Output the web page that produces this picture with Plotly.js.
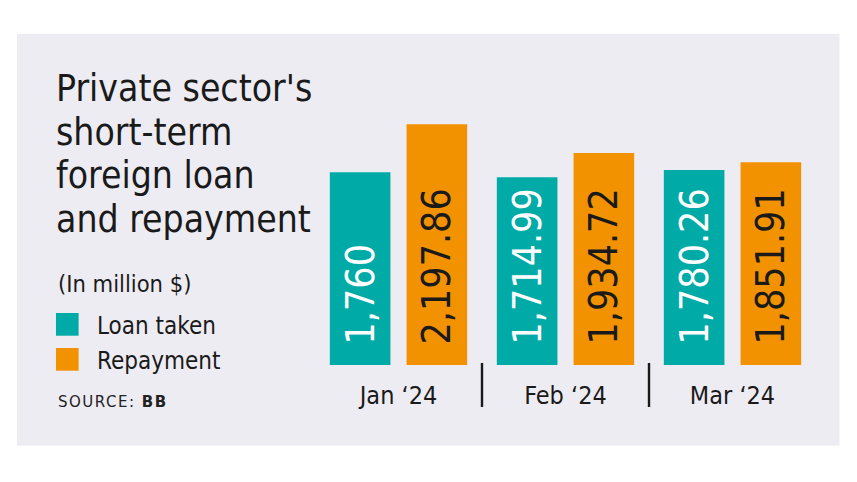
<!DOCTYPE html>
<html>
<head>
<meta charset="utf-8">
<script src="https://cdn.plot.ly/plotly-3.0.1.min.js"></script>
<style>html,body{margin:0;padding:0;background:#fff;}#chart{width:857px;height:482px;}</style>
</head>
<body>
<div id="chart"></div>
<script>
// ---- data ----
const months = ['Jan \u201824', 'Feb \u201824', 'Mar \u201824'];
const loanTaken = [1760, 1714.99, 1780.26];
const repayment = [2197.86, 1934.72, 1851.91];
const seriesNames = ['Loan taken', 'Repayment'];
const titleLines = ["Private sector's", 'short-term', 'foreign loan', 'and repayment'];
const subtitle = '(In million $)';
const sourceText = 'SOURCE: <b>BB</b>';

// ---- style ----
const NARROW = '"DejaVu Sans Condensed", "Liberation Sans Narrow", sans-serif';
const TEAL = '#00aba7';
const ORANGE = '#f39200';
const PANEL = '#eeecf3';
const INK = '#1a1a1a';

const W = 857, H = 482;
const M = {l: 314.5, r: 40.6, t: 124.2, b: 116.7};
const pw = W - M.l - M.r, ph = H - M.t - M.b;
const px = x => (x - M.l) / pw;
const py = y => (H - M.b - y) / ph;

const fmt = v => '\u2002' + v.toLocaleString('en-US', {maximumFractionDigits: 2});

const barCommon = {
  type: 'bar',
  x: months,
  textposition: 'inside',
  insidetextanchor: 'start',
  constraintext: 'none',
  textangle: -90,
  cliponaxis: false,
  hoverinfo: 'skip'
};

const traces = [
  Object.assign({}, barCommon, {
    name: seriesNames[0], y: loanTaken, text: loanTaken.map(fmt),
    marker: {color: TEAL},
    textfont: {family: NARROW, size: 39, color: '#ffffff'}
  }),
  Object.assign({}, barCommon, {
    name: seriesNames[1], y: repayment, text: repayment.map(fmt),
    marker: {color: ORANGE},
    textfont: {family: NARROW, size: 39, color: INK}
  })
];

const shapes = [
  {type: 'rect', xref: 'paper', yref: 'paper', x0: px(16), x1: px(840), y0: py(446), y1: py(34),
   fillcolor: PANEL, line: {width: 0}, layer: 'below'},
  {type: 'line', xref: 'x', yref: 'paper', x0: 0.5, x1: 0.5, y0: py(407.3), y1: py(363.3),
   line: {color: INK, width: 2.4}},
  {type: 'line', xref: 'x', yref: 'paper', x0: 1.5, x1: 1.5, y0: py(407.3), y1: py(363.3),
   line: {color: INK, width: 2.4}},
  {type: 'rect', xref: 'paper', yref: 'paper', x0: px(55), x1: px(77.7), y0: py(336), y1: py(313.3),
   fillcolor: TEAL, line: {width: 0}},
  {type: 'rect', xref: 'paper', yref: 'paper', x0: px(55), x1: px(77.7), y0: py(371), y1: py(348.3),
   fillcolor: ORANGE, line: {width: 0}}
];

const annotations = [
  {text: subtitle, xref: 'paper', yref: 'paper', x: px(55), y: py(284), xanchor: 'left', yanchor: 'middle',
   showarrow: false, font: {family: NARROW, size: 23.5, color: INK}},
  {text: seriesNames[0], xref: 'paper', yref: 'paper', x: px(94), y: py(326), xanchor: 'left', yanchor: 'middle',
   showarrow: false, font: {family: NARROW, size: 24, color: INK}},
  {text: seriesNames[1], xref: 'paper', yref: 'paper', x: px(94), y: py(361), xanchor: 'left', yanchor: 'middle',
   showarrow: false, font: {family: NARROW, size: 24, color: INK}},
  {text: '<span style="letter-spacing:1.5px">' + sourceText + '</span>', xref: 'paper', yref: 'paper',
   x: px(55), y: py(402), xanchor: 'left', yanchor: 'middle',
   showarrow: false, font: {family: '"DejaVu Sans", sans-serif', size: 15, color: '#222222'}}
];

const layout = {
  width: W, height: H, autosize: false,
  margin: M,
  paper_bgcolor: '#ffffff',
  plot_bgcolor: 'rgba(0,0,0,0)',
  showlegend: false,
  barmode: 'group',
  bargap: 0.081,
  bargroupgap: 0.21,
  title: {
    text: titleLines.map(t => '<span style="font-size:37px">' + t + '</span>').join('<br>'),
    xref: 'container', yref: 'container',
    x: 56 / W, xanchor: 'left',
    y: 1 - 101 / H, yanchor: 'top',
    font: {family: NARROW, size: 33.5, color: INK}
  },
  xaxis: {
    type: 'category',
    showgrid: false, zeroline: false, showline: false, ticks: '',
    ticklabelstandoff: 13,
    tickfont: {family: NARROW, size: 25, color: INK},
    fixedrange: true
  },
  yaxis: {
    range: [0, 2200], visible: false, showgrid: false, zeroline: false, fixedrange: true
  },
  shapes: shapes,
  annotations: annotations
};

Plotly.newPlot('chart', traces, layout, {displayModeBar: false, staticPlot: true});
</script>
</body>
</html>
